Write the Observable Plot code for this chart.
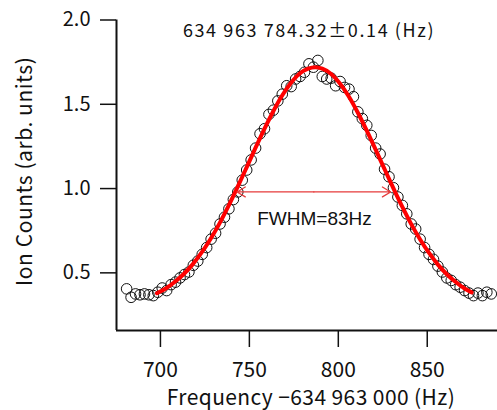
<!DOCTYPE html>
<html><head><meta charset="utf-8">
<script src="https://cdn.jsdelivr.net/npm/d3@7"></script>
<script src="https://cdn.jsdelivr.net/npm/@observablehq/plot@0.6"></script>
<style>body{margin:0;background:#fff}</style>
</head><body><div id="chart"></div>
<script>
// Measured points: frequency offset (Hz) and ion counts
const freq = [681.0,683.5,686.0,688.5,691.0,693.5,696.0,698.5,701.0,703.5,706.0,708.5,711.0,713.5,716.0,718.5,721.0,723.5,726.0,728.5,731.0,733.5,736.0,738.5,741.0,743.5,746.0,748.5,751.0,753.5,756.0,758.5,761.0,763.5,766.0,768.5,771.0,773.5,776.0,778.5,781.0,783.5,786.0,788.5,791.0,793.5,796.0,798.5,801.0,803.5,806.0,808.5,811.0,813.5,816.0,818.5,821.0,823.5,826.0,828.5,831.0,833.5,836.0,838.5,841.0,843.5,846.0,848.5,851.0,853.5,856.0,858.5,861.0,863.5,866.0,868.5,871.0,873.5,876.0,878.5,881.0,883.5,886.0];
const counts = [0.405,0.355,0.375,0.370,0.375,0.370,0.365,0.385,0.410,0.395,0.430,0.445,0.470,0.490,0.505,0.545,0.570,0.610,0.650,0.700,0.735,0.790,0.830,0.880,0.935,0.980,1.050,1.110,1.170,1.240,1.325,1.355,1.440,1.465,1.520,1.560,1.610,1.605,1.650,1.665,1.690,1.740,1.720,1.760,1.665,1.650,1.655,1.610,1.635,1.600,1.590,1.545,1.455,1.415,1.375,1.315,1.240,1.205,1.115,1.070,1.005,0.950,0.900,0.850,0.790,0.760,0.700,0.650,0.610,0.580,0.540,0.505,0.470,0.455,0.430,0.415,0.395,0.380,0.365,0.380,0.365,0.385,0.375];
// Fitted curve
const fitFreq = [698,703,708,713,718,723,728,733,738,743,748,753,758,763,768,773,778,783,787,791,796,801,806,811,816,821,826,831,836,841,846,851,856,861,866,871,875];
const fitCounts = [0.379,0.407,0.446,0.492,0.549,0.618,0.698,0.789,0.891,1.001,1.115,1.231,1.344,1.450,1.545,1.622,1.680,1.711,1.720,1.711,1.680,1.622,1.545,1.450,1.344,1.231,1.115,1.001,0.891,0.789,0.698,0.618,0.549,0.492,0.446,0.407,0.384];
const xTicks = [700, 750, 800, 850];
const yTicks = [0.5, 1.0, 1.5, 2.0];
const titleText = "634 963 784.32±0.14 (Hz)";
const xLabel = "Frequency −634 963 000 (Hz)";
const yLabel = "Ion Counts (arb. units)";
const fwhmLabel = "FWHM=83Hz";
const fwhmLeft = 743.1, fwhmRight = 829.4, fwhmLevel = 0.98;
const fwhmLabelX = 786.6, fwhmLabelY = 0.822;

const xDomain = [675.3, 889.5];
const yDomain = [0.158, 2.0];

const points = freq.map((f, i) => ({f, c: counts[i]}));
const fit = fitFreq.map((f, i) => ({f, c: fitCounts[i]}));
const mid = (fwhmLeft + fwhmRight) / 2;
const arrows = [{x1: mid, x2: fwhmLeft}, {x1: mid, x2: fwhmRight}];
const jp = "'Noto Sans CJK JP', 'Noto Sans', sans-serif";

const chart = Plot.plot({
  width: 497, height: 410,
  marginLeft: 116, marginRight: 0, marginTop: 19.5, marginBottom: 80,
  x: {domain: xDomain},
  y: {domain: yDomain},
  style: {fontFamily: jp, color: "#111", background: "#fff"},
  marks: [
    Plot.axisX(xTicks, {tickSize: 17, tickPadding: 15, fontSize: 21, label: null, strokeWidth: 1.5, stroke: "#111"}),
    Plot.axisY(yTicks, {tickSize: 16, tickPadding: 10, fontSize: 20, label: null, strokeWidth: 1.5, stroke: "#111", tickFormat: d => d.toFixed(1)}),
    Plot.ruleX([xDomain[0]], {stroke: "#111", strokeWidth: 2}),
    Plot.ruleY([yDomain[0]], {stroke: "#111", strokeWidth: 2}),
    Plot.dot(points, {x: "f", y: "c", r: 5.3, stroke: "#111", strokeWidth: 1, fill: "none"}),
    Plot.line(fit, {x: "f", y: "c", stroke: "#ff0000", strokeWidth: 4, curve: "catmull-rom"}),
    Plot.arrow(arrows, {x1: "x1", x2: "x2", y1: () => fwhmLevel, y2: () => fwhmLevel, headAngle: 62, headLength: 11, stroke: "#e63b3b", strokeWidth: 1.3}),
    Plot.text([fwhmLabel], {x: () => fwhmLabelX, y: () => fwhmLabelY, fontSize: 19, fontFamily: "'Liberation Sans', Arial, sans-serif", fill: "#111"}),
    Plot.text([titleText], {frameAnchor: "top", lineAnchor: "middle", dy: 11, dx: 2, fontSize: 18, fill: "#111"}),
    Plot.text([xLabel], {frameAnchor: "bottom", lineAnchor: "middle", dy: 68, dx: 4, fontSize: 21, fill: "#111"}),
    Plot.text([yLabel], {frameAnchor: "left", textAnchor: "middle", lineAnchor: "middle", rotate: -90, dx: -91, dy: -4, fontSize: 21, fill: "#111"})
  ]
});
const spacing = new Map([[titleText, "1.6px"], [xLabel, "0.4px"], [yLabel, "0.55px"]]);
chart.querySelectorAll("text").forEach(t => {
  const s = spacing.get(t.textContent);
  if (s) t.style.letterSpacing = s;
});
document.getElementById("chart").appendChild(chart);
</script>
</body></html>
